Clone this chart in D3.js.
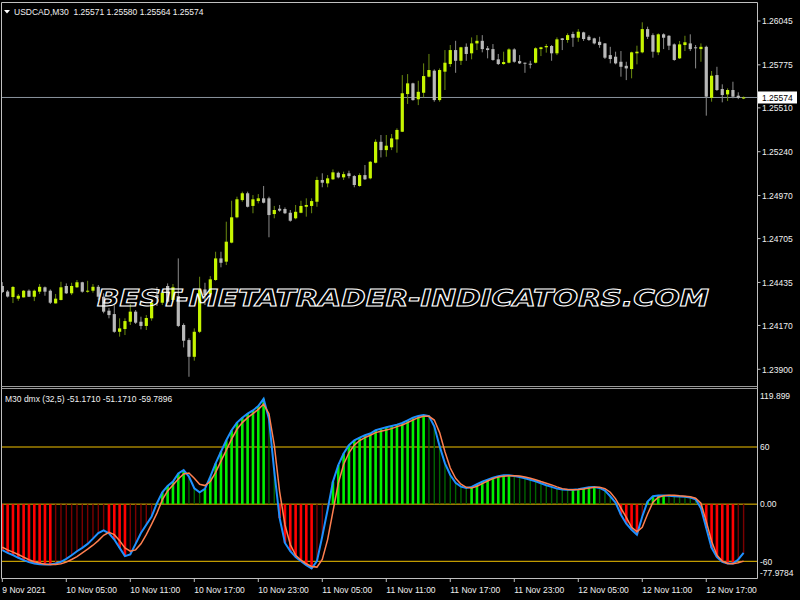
<!DOCTYPE html>
<html><head><meta charset="utf-8">
<script src="https://cdn.jsdelivr.net/npm/d3@7"></script>
<style>html,body{margin:0;padding:0;background:#000}svg{display:block}</style>
</head><body>
<svg id="c" width="800" height="600"></svg>
<script>
// ---------------- DATA ----------------
const symbolTitle = "USDCAD,M30";
const lastBar = [1.25571, 1.25580, 1.25564, 1.25574];
const indicatorTitle = "M30 dmx (32,5)";
const indicatorHeaderValues = [-51.1710, -51.1710, -59.7896];

const timeLabels = ["9 Nov 2021","10 Nov 05:00","10 Nov 11:00","10 Nov 17:00","10 Nov 23:00","11 Nov 05:00","11 Nov 11:00","11 Nov 17:00","11 Nov 23:00","12 Nov 05:00","12 Nov 11:00","12 Nov 17:00"];
const timeLabelBars = [0,12,24,36,48,60,72,84,96,108,120,132];

const priceTicks = [1.26045,1.25775,1.25510,1.25240,1.24970,1.24705,1.24435,1.24170,1.23900];
const currentPrice = 1.25574;

const dmxTicks = [119.899, 60, 0, -60, -77.9784];
const dmxTickLabels = ["119.899","60","0.00","-60","-77.9784"];
const dmxLevels = [60, 0, -60];

const open = [1.24413,1.24379,1.24345,1.24335,1.24343,1.24384,1.24347,1.24378,1.24405,1.24384,
1.24306,1.24327,1.24413,1.24368,1.24405,1.24436,1.24378,1.24384,1.24408,1.24347,
1.24261,1.24240,1.24131,1.24148,1.24193,1.24255,1.24193,1.24167,1.24214,1.24357,
1.24310,1.24413,1.24327,1.24351,1.24173,1.24080,1.23977,1.24131,1.24392,1.24364,
1.24450,1.24583,1.24563,1.24680,1.24836,1.24942,1.24984,1.24906,1.24936,1.24953,
1.24953,1.24856,1.24889,1.24887,1.24864,1.24830,1.24864,1.24901,1.24906,1.24932,
1.25066,1.25045,1.25070,1.25110,1.25082,1.25107,1.25090,1.25029,1.25096,1.25076,
1.25172,1.25301,1.25250,1.25267,1.25316,1.25363,1.25595,1.25661,1.25563,1.25603,
1.25702,1.25739,1.25558,1.25733,1.25780,1.25866,1.25800,1.25886,1.25846,1.25907,
1.25923,1.25877,1.25872,1.25809,1.25780,1.25788,1.25870,1.25798,1.25788,1.25782,
1.25788,1.25872,1.25883,1.25891,1.25846,1.25938,1.25928,1.25965,1.25942,1.25975,
1.25948,1.25938,1.25917,1.25907,1.25835,1.25825,1.25794,1.25769,1.25749,1.25846,
1.25852,1.25995,1.25958,1.25852,1.25963,1.25954,1.25901,1.25815,1.25897,1.25907,
1.25883,1.25872,1.25886,1.25572,1.25712,1.25626,1.25593,1.25620,1.25585,1.25571];

const high = [1.24437,1.24388,1.24413,1.24364,1.24388,1.24392,1.24391,1.24425,1.24410,1.24392,
1.24364,1.24439,1.24429,1.24433,1.24450,1.24439,1.24445,1.24425,1.24419,1.24368,
1.24277,1.24296,1.24214,1.24214,1.24302,1.24265,1.24224,1.24234,1.24331,1.24407,
1.24388,1.24429,1.24425,1.24583,1.24183,1.24091,1.24152,1.24470,1.24433,1.24474,
1.24624,1.24624,1.24809,1.24938,1.24963,1.24994,1.24994,1.24973,1.24979,1.25029,
1.24963,1.24906,1.24912,1.24897,1.24881,1.24912,1.24938,1.24953,1.24953,1.25086,
1.25107,1.25096,1.25131,1.25117,1.25117,1.25123,1.25096,1.25107,1.25158,1.25183,
1.25316,1.25343,1.25343,1.25349,1.25384,1.25712,1.25718,1.25665,1.25677,1.25784,
1.25842,1.25747,1.25753,1.25866,1.25897,1.25923,1.25886,1.25907,1.25944,1.25958,
1.25958,1.25891,1.25903,1.25842,1.25856,1.25877,1.25877,1.25835,1.25789,1.25800,
1.25883,1.25886,1.25903,1.25897,1.25944,1.25940,1.25969,1.25979,1.25995,1.25979,
1.25958,1.25942,1.25948,1.25909,1.25886,1.25856,1.25860,1.25794,1.25856,1.25893,
1.26037,1.26010,1.25969,1.25969,1.25969,1.25958,1.25907,1.25922,1.25954,1.25963,
1.25897,1.25907,1.25893,1.25737,1.25763,1.25655,1.25630,1.25671,1.25606,1.25580];

const low = [1.24370,1.24342,1.24308,1.24322,1.24342,1.24345,1.24320,1.24364,1.24353,1.24302,
1.24305,1.24324,1.24364,1.24357,1.24401,1.24372,1.24372,1.24372,1.24327,1.24245,
1.24214,1.24125,1.24101,1.24111,1.24173,1.24179,1.24146,1.24142,1.24199,1.24290,
1.24296,1.24306,1.24314,1.24160,1.24035,1.23854,1.23953,1.24123,1.24296,1.24357,
1.24445,1.24528,1.24542,1.24676,1.24830,1.24932,1.24897,1.24861,1.24922,1.24922,
1.24713,1.24830,1.24870,1.24856,1.24809,1.24824,1.24861,1.24840,1.24861,1.24901,
1.25021,1.25021,1.25066,1.25076,1.25066,1.25076,1.25021,1.25024,1.25066,1.25070,
1.25168,1.25205,1.25209,1.25250,1.25234,1.25361,1.25534,1.25554,1.25527,1.25575,
1.25698,1.25548,1.25548,1.25620,1.25763,1.25726,1.25774,1.25800,1.25809,1.25866,
1.25852,1.25815,1.25800,1.25774,1.25776,1.25784,1.25788,1.25780,1.25726,1.25753,
1.25784,1.25829,1.25850,1.25800,1.25835,1.25866,1.25911,1.25886,1.25917,1.25922,
1.25922,1.25901,1.25880,1.25811,1.25784,1.25778,1.25702,1.25681,1.25692,1.25778,
1.25846,1.25934,1.25819,1.25835,1.25872,1.25866,1.25800,1.25811,1.25860,1.25860,
1.25753,1.25794,1.25462,1.25548,1.25614,1.25544,1.25552,1.25569,1.25564,1.25564];

const close = [1.24376,1.24348,1.24407,1.24353,1.24384,1.24347,1.24384,1.24408,1.24378,1.24310,
1.24335,1.24405,1.24368,1.24413,1.24436,1.24378,1.24384,1.24408,1.24347,1.24255,
1.24234,1.24131,1.24152,1.24197,1.24255,1.24187,1.24167,1.24216,1.24310,1.24339,
1.24372,1.24316,1.24405,1.24167,1.24076,1.23977,1.24131,1.24392,1.24357,1.24454,
1.24583,1.24556,1.24686,1.24836,1.24947,1.24984,1.24901,1.24947,1.24953,1.24926,
1.24850,1.24881,1.24877,1.24861,1.24815,1.24870,1.24906,1.24912,1.24936,1.25066,
1.25049,1.25076,1.25113,1.25082,1.25102,1.25090,1.25035,1.25096,1.25070,1.25178,
1.25301,1.25250,1.25277,1.25322,1.25374,1.25600,1.25661,1.25558,1.25609,1.25706,
1.25743,1.25558,1.25743,1.25788,1.25866,1.25800,1.25883,1.25842,1.25907,1.25923,
1.25872,1.25866,1.25805,1.25780,1.25792,1.25870,1.25794,1.25784,1.25784,1.25780,
1.25877,1.25883,1.25891,1.25846,1.25932,1.25928,1.25958,1.25942,1.25979,1.25934,
1.25928,1.25907,1.25897,1.25819,1.25811,1.25784,1.25763,1.25753,1.25852,1.25856,
1.25995,1.25948,1.25856,1.25963,1.25942,1.25893,1.25805,1.25901,1.25914,1.25872,
1.25878,1.25886,1.25579,1.25708,1.25620,1.25589,1.25620,1.25579,1.25572,1.25574];

// dmx main line (blue, also histogram) and signal line (orange)
const dmxMain = [-48.3,-51.1,-53.6,-56.3,-58.8,-60.9,-62.3,-63.0,-63.3,-63.3,
-62.3,-60.5,-57.4,-53.6,-49.4,-45.9,-41.7,-36.2,-30.3,-27.5,
-30.6,-37.2,-45.9,-54.6,-52.9,-41.7,-30.3,-21.6,-12.9,1.0,
12.5,19.1,23.7,32.3,35.8,28.9,16.7,12.5,16.0,28.9,
42.8,55.0,67.1,77.6,85.6,90.8,95.0,98.4,102.9,110.6,
89.7,34.1,-14.6,-40.7,-49.4,-55.6,-59.8,-64.0,-67.5,-59.8,
-33.7,-5.9,23.7,41.0,53.2,61.9,67.1,69.9,72.3,74.1,
77.6,79.3,80.7,82.1,83.5,85.2,88.0,90.8,92.5,93.6,
92.5,81.7,60.9,42.8,30.6,22.3,18.4,17.0,18.1,20.9,
23.7,25.7,27.8,29.2,30.3,30.3,29.6,28.5,27.1,25.7,
24.0,21.9,19.8,18.1,16.3,15.3,15.0,15.0,15.7,16.7,
17.7,18.1,17.0,14.3,8.3,1.5,-11.1,-20.5,-26.8,-32.0,
-12.9,2.8,8.3,9.0,9.0,8.7,8.3,8.0,7.7,7.0,
5.2,-4.2,-25.0,-45.9,-55.6,-60.5,-62.3,-62.3,-58.1,-51.171];

const dmxSignal = [-45.2,-48.0,-50.4,-52.9,-55.6,-58.4,-60.5,-61.9,-63.0,-63.3,
-63.3,-62.6,-60.9,-58.1,-55.0,-51.1,-47.3,-43.1,-38.3,-32.7,
-29.6,-32.0,-38.3,-45.9,-49.4,-48.0,-41.7,-32.0,-20.9,-9.4,
4.5,13.9,20.2,26.4,31.6,32.7,27.1,20.9,19.5,23.7,
33.4,45.2,56.7,68.2,78.6,85.6,90.8,95.0,99.5,105.0,
95.0,61.9,13.2,-21.6,-42.4,-53.6,-58.8,-62.6,-65.4,-66.1,
-58.1,-37.2,-7.7,21.9,41.7,53.9,61.9,66.8,69.9,72.3,
75.1,76.5,77.9,79.3,81.4,83.1,85.6,88.3,90.8,92.2,
92.2,88.3,75.1,55.0,37.9,27.1,20.9,17.7,17.0,18.8,
21.6,24.3,26.8,28.5,29.2,29.9,29.9,29.6,28.5,27.1,
25.7,23.7,21.9,20.2,18.1,16.3,15.3,15.0,15.3,16.0,
17.0,17.7,17.7,16.3,12.5,5.6,-4.2,-13.9,-24.3,-28.9,
-24.3,-10.4,2.1,7.3,8.7,9.4,9.4,8.7,8.3,7.7,
6.3,1.0,-18.1,-39.0,-53.6,-59.8,-62.3,-62.6,-61.6,-59.7896];

// ---------------- STYLE ----------------
const FONT = "'Liberation Sans', Arial, sans-serif";
const TXT = "#f0f0f0";
const FRAME = "#c0c0c0";
const BULL = "#c6f500", BULL_WICK = "#6a8a10";
const BEAR = "#b8b8b8", BEAR_WICK = "#8a8a8a";
const LEVEL = "#f2c200";

const svg = d3.select("#c");
svg.append("rect").attr("width",800).attr("height",600).attr("fill","#000");

const n = open.length;
const x = d3.scaleLinear().domain([0, n-1]).range([2.3, 743.6]);
const y = d3.scaleLinear().domain([1.23900, 1.26045]).range([369.3, 21]);
const yi = d3.scaleLinear().domain([-60, 60]).range([561.3, 447]);

const defs = svg.append("defs");
defs.append("clipPath").attr("id","mainClip").append("rect").attr("x",2).attr("y",3).attr("width",755).attr("height",383);
defs.append("clipPath").attr("id","indClip").append("rect").attr("x",2).attr("y",389).attr("width",755).attr("height",189);

// ---------- main panel ----------
const main = svg.append("g").attr("clip-path","url(#mainClip)");

main.append("line").attr("x1",2).attr("x2",757).attr("y1",y(currentPrice)).attr("y2",y(currentPrice))
  .attr("stroke","#8a949e").attr("stroke-width",1);

const idx = d3.range(n);
const candles = main.append("g");
candles.selectAll("line.wick").data(idx).join("line").attr("class","wick")
  .attr("x1",i=>x(i)).attr("x2",i=>x(i))
  .attr("y1",i=>y(high[i])).attr("y2",i=>y(low[i]))
  .attr("stroke",i=>close[i]>=open[i]?BULL_WICK:BEAR_WICK).attr("stroke-width",1);
candles.selectAll("rect.body").data(idx).join("rect").attr("class","body")
  .attr("x",i=>x(i)-1.6).attr("width",3.2)
  .attr("y",i=>Math.min(y(open[i]),y(close[i])))
  .attr("height",i=>Math.max(1,Math.abs(y(open[i])-y(close[i]))))
  .attr("fill",i=>close[i]>=open[i]?BULL:BEAR);

// watermark
svg.append("text").attr("x",97).attr("y",306).attr("textLength",612).attr("lengthAdjust","spacingAndGlyphs")
  .attr("font-family","'DejaVu Sans', sans-serif").attr("font-weight","bold").attr("font-style","italic")
  .attr("font-size",23).attr("fill","none").attr("stroke","#ffffff").attr("stroke-width",1)
  .text("BEST-METATRADER-INDICATORS.COM");

// ---------- indicator panel ----------
const ind = svg.append("g").attr("clip-path","url(#indClip)");
ind.selectAll("line.level").data(dmxLevels).join("line").attr("class","level")
  .attr("x1",2).attr("x2",757).attr("y1",d=>yi(d)).attr("y2",d=>yi(d))
  .attr("stroke",LEVEL).attr("stroke-width",1);

function bright(i){
  if(i===0) return true;
  const v=dmxMain[i], p=dmxMain[i-1];
  return v>=0 ? v>=p : v<=p;
}
ind.selectAll("rect.hist").data(idx).join("rect").attr("class","hist")
  .attr("x",i=>x(i)-(bright(i)?1.3:0.7)).attr("width",i=>bright(i)?2.6:1.4)
  .attr("y",i=>Math.min(yi(0),yi(dmxMain[i])))
  .attr("height",i=>Math.abs(yi(dmxMain[i])-yi(0)))
  .attr("fill",i=>{const b=bright(i);return dmxMain[i]>=0?(b?"#00f000":"#006400"):(b?"#ff0000":"#7a0000");});

const lineGen = arr => d3.line().x(i=>x(i)).y(i=>yi(arr[i]))(idx);
ind.append("path").attr("d",lineGen(dmxMain)).attr("fill","none").attr("stroke","#1e90ff").attr("stroke-width",2);
ind.append("path").attr("d",lineGen(dmxSignal)).attr("fill","none").attr("stroke","#ff7f50").attr("stroke-width",1.5);

// ---------- frames ----------
const fr = svg.append("g").attr("stroke",FRAME).attr("fill","none");
fr.append("line").attr("x1",1.5).attr("x2",757.5).attr("y1",2.5).attr("y2",2.5);
fr.append("line").attr("x1",1.5).attr("x2",1.5).attr("y1",2.5).attr("y2",578.5);
fr.append("line").attr("x1",757.5).attr("x2",757.5).attr("y1",2.5).attr("y2",578.5);
fr.append("line").attr("x1",1.5).attr("x2",757.5).attr("y1",578.5).attr("y2",578.5);
fr.append("line").attr("x1",1.5).attr("x2",757.5).attr("y1",386.5).attr("y2",386.5).attr("stroke","#9a9a9a");
fr.append("line").attr("x1",1.5).attr("x2",757.5).attr("y1",388.5).attr("y2",388.5).attr("stroke","#9a9a9a");

// ---------- right price axis ----------
const pa = svg.append("g").attr("font-family",FONT).attr("font-size",8.5).attr("fill",TXT);
priceTicks.forEach(p=>{
  pa.append("line").attr("x1",757.5).attr("x2",760.5).attr("y1",y(p)).attr("y2",y(p)).attr("stroke",FRAME);
  pa.append("text").attr("x",762).attr("y",y(p)+3.2).text(p.toFixed(5));
});
pa.append("rect").attr("x",758).attr("y",y(currentPrice)-6).attr("width",39).attr("height",12).attr("fill","#fff");
pa.append("text").attr("x",762).attr("y",y(currentPrice)+3.2).attr("fill","#000").text(currentPrice.toFixed(5));

// ---------- right indicator axis ----------
const ia = svg.append("g").attr("font-family",FONT).attr("font-size",8.5).attr("fill",TXT);
dmxTicks.forEach((v,k)=>{
  let yy = yi(v);
  if(k===0) yy = 396;
  if(k===dmxTicks.length-1) yy = 573;
  ia.append("text").attr("x",760).attr("y",yy+3.2).text(dmxTickLabels[k]);
});

// ---------- time axis ----------
const ta = svg.append("g").attr("font-family",FONT).attr("font-size",8.5).attr("fill",TXT);
timeLabels.forEach((t,k)=>{
  const xx = x(timeLabelBars[k]);
  ta.append("line").attr("x1",xx).attr("x2",xx).attr("y1",578.5).attr("y2",582).attr("stroke",FRAME);
  ta.append("text").attr("x",xx).attr("y",592.5).text(t);
});

// ---------- headers ----------
svg.append("path").attr("d","M4,10 L10,10 L7,13.5 Z").attr("fill","#fff");
svg.append("text").attr("x",14).attr("y",15).attr("font-family",FONT).attr("font-size",8.5).attr("fill",TXT)
  .attr("xml:space","preserve")
  .text(symbolTitle + "  " + lastBar.map(v=>v.toFixed(5)).join(" "));
svg.append("text").attr("x",5).attr("y",401.5).attr("font-family",FONT).attr("font-size",8.5).attr("fill",TXT)
  .text(indicatorTitle + " " + indicatorHeaderValues.map(v=>v.toFixed(4)).join(" "));
</script>
</body></html>
